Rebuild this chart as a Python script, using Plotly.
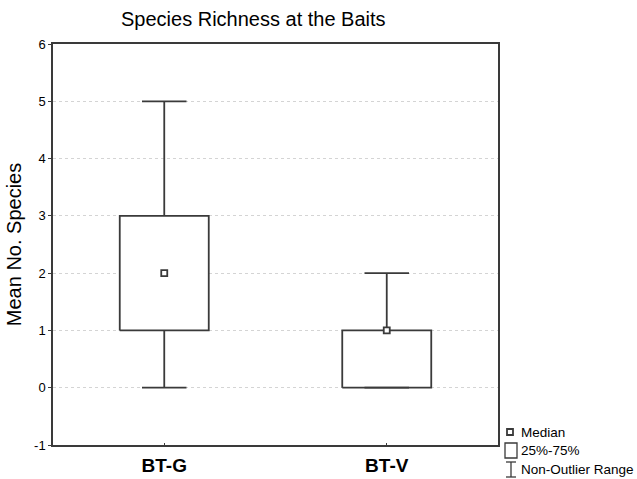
import plotly.graph_objects as go

categories = ["BT-G", "BT-V"]
q1 = [1, 0]
median = [2, 1]
q3 = [3, 1]
low = [0, 0]
high = [5, 2]
y_ticks = [-1, 0, 1, 2, 3, 4, 5, 6]
y_tick_labels = ["-1", "0", "1", "2", "3", "4", "5", "6"]

LINE = "#3a3a3a"
FONT = "Liberation Sans, Arial, sans-serif"
BOX_HW = 0.2
CAP_HW = 0.1

fig = go.Figure()
for i, cat in enumerate(categories):
    fig.add_trace(go.Scatter(
        x=[i - BOX_HW, i + BOX_HW, i + BOX_HW, i - BOX_HW, i - BOX_HW],
        y=[q1[i], q1[i], q3[i], q3[i], q1[i]],
        mode="lines", fill="toself", fillcolor="white",
        line=dict(color=LINE, width=1.8), hoverinfo="skip", showlegend=False))
    fig.add_trace(go.Scatter(
        x=[i, i, None, i - CAP_HW, i + CAP_HW, None, i, i, None, i - CAP_HW, i + CAP_HW],
        y=[q3[i], high[i], None, high[i], high[i], None, q1[i], low[i], None, low[i], low[i]],
        mode="lines", line=dict(color=LINE, width=1.8), hoverinfo="skip", showlegend=False))
    fig.add_trace(go.Scatter(
        x=[i], y=[median[i]], mode="markers",
        marker=dict(symbol="square", size=6, color="white", line=dict(color=LINE, width=1.8)),
        showlegend=False, name=cat))

W, H = 637, 479
ml, mr, mt, mb = 53, 139, 44, 34
pw, ph = W - ml - mr, H - mt - mb

def px(x):
    return (x - ml) / pw

def py(y):
    return 1 - (y - mt) / ph

shapes = []
shapes.append(dict(type="rect", xref="paper", yref="paper",
                   x0=px(507), x1=px(513), y0=py(435), y1=py(429),
                   line=dict(color=LINE, width=1.8), fillcolor="white"))
shapes.append(dict(type="rect", xref="paper", yref="paper",
                   x0=px(505), x1=px(517), y0=py(458), y1=py(443),
                   line=dict(color=LINE, width=1.3), fillcolor="white"))
shapes.append(dict(type="line", xref="paper", yref="paper",
                   x0=px(511), x1=px(511), y0=py(462), y1=py(477),
                   line=dict(color=LINE, width=1.3)))
shapes.append(dict(type="line", xref="paper", yref="paper",
                   x0=px(506), x1=px(516), y0=py(462), y1=py(462),
                   line=dict(color=LINE, width=1.3)))
shapes.append(dict(type="line", xref="paper", yref="paper",
                   x0=px(506), x1=px(516), y0=py(477), y1=py(477),
                   line=dict(color=LINE, width=1.3)))

annotations = []
for txt, ycen in [("Median", 432), ("25%-75%", 450), ("Non-Outlier Range", 469)]:
    annotations.append(dict(text=txt, xref="paper", yref="paper", x=px(519), y=py(ycen),
                            xanchor="left", yanchor="middle", showarrow=False,
                            font=dict(family=FONT, size=13.5, color="black")))
annotations.append(dict(text="Species Richness at the Baits", xref="paper", yref="paper",
                        x=px(253.5), y=py(19), xanchor="center", yanchor="middle",
                        showarrow=False, font=dict(family=FONT, size=20, color="black")))

fig.update_layout(
    width=W, height=H,
    margin=dict(l=ml, r=mr, t=mt, b=mb, pad=0),
    paper_bgcolor="white", plot_bgcolor="white",
    shapes=shapes, annotations=annotations,
    xaxis=dict(range=[-0.5, 1.5], tickvals=list(range(len(categories))), ticktext=categories,
               showgrid=False, zeroline=False, showline=True, mirror=True, automargin=False,
               linecolor=LINE, linewidth=1.5, ticks="inside", ticklen=2, tickcolor=LINE,
               tickfont=dict(family=FONT, size=19, color="black", weight="bold"),
               ticklabelstandoff=2),
    yaxis=dict(range=[-1, 6], tickvals=y_ticks, ticktext=y_tick_labels, showgrid=True,
               gridcolor="#d4d4d4", griddash="dot", gridwidth=1, zeroline=False, showline=True,
               mirror=True, automargin=False,
               linecolor=LINE, linewidth=1.5, ticks="outside", ticklen=3, tickcolor=LINE,
               tickfont=dict(family=FONT, size=13, color="black"),
               title=dict(text="Mean No. Species", font=dict(family=FONT, size=20, color="black"),
                          standoff=7)),
    showlegend=False,
)

fig.write_html("out.html")
